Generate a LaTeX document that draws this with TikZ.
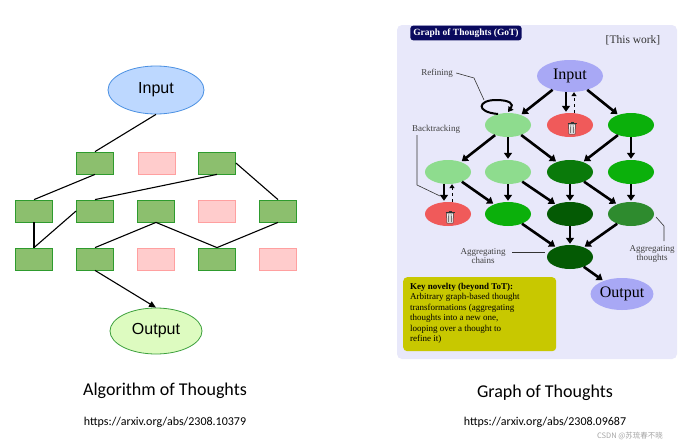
\documentclass[tikz,border=0pt]{standalone}
\usepackage{fontspec}
\setmainfont{Liberation Serif}
\newfontfamily\calib{Carlito}
\newfontfamily\arialf{Liberation Sans}
\newfontfamily\cjk{Noto Sans CJK SC}
\usetikzlibrary{arrows.meta,shapes.geometric,calc}
\definecolor{boxg}{HTML}{8CBF6E}\definecolor{boxgd}{HTML}{2E9B2E}
\definecolor{boxp}{HTML}{FFCCCC}\definecolor{boxpd}{HTML}{FFA0A0}
\definecolor{panel}{HTML}{E8E8FA}\definecolor{navy}{HTML}{0A0A5E}
\definecolor{purp}{HTML}{A8A8F5}\definecolor{lg}{HTML}{8EDC8E}
\definecolor{g1}{HTML}{0BB00B}\definecolor{g2}{HTML}{0A7A0A}
\definecolor{g3}{HTML}{045A04}\definecolor{g4}{HTML}{2E8B2E}
\definecolor{rd}{HTML}{F05A5A}\definecolor{key}{HTML}{C8C800}
\definecolor{inb}{HTML}{BDD8FF}\definecolor{inbd}{HTML}{4A90E2}
\definecolor{outg}{HTML}{DDFBC0}\definecolor{outgd}{HTML}{3CA03C}
\begin{document}
\begin{tikzpicture}[x=1pt,y=-1pt,
 gb/.style={draw=boxgd,fill=boxg,minimum width=37pt,minimum height=22pt,inner sep=0pt,line width=0.8pt},
 pb/.style={draw=boxpd,fill=boxp,minimum width=37pt,minimum height=22pt,inner sep=0pt,line width=0.8pt},
 ln/.style={line width=1.1pt},
 th/.style={ellipse,minimum width=46pt,minimum height=24pt,inner sep=0pt},
 ar/.style={line width=2.6pt,-{Triangle[length=6pt,width=8pt]},shorten >=1pt},
 da/.style={line width=1pt,dashed,-{Triangle[length=4pt,width=5pt]}},
 lab/.style={font=\fontsize{9}{9}\selectfont,text=black!75,align=center},
 lead/.style={line width=0.6pt,black!80}]
\useasboundingbox (0,0) rectangle (694,447);
\fill[white] (0,0) rectangle (694,447);
% ---------- left
\node[ellipse,draw=inbd,fill=inb,minimum width=96pt,minimum height=48pt,line width=0.8pt,font=\arialf\fontsize{16}{16}\selectfont] (in) at (156,90) {Input};
\node[gb] (a1) at (95,163) {};\node[pb] (a2) at (157,163) {};\node[gb] (a3) at (217,163) {};
\node[gb] (b1) at (34,211) {};\node[gb] (b2) at (95,211) {};\node[gb] (b3) at (156,211) {};\node[pb] (b4) at (217,211) {};\node[gb] (b5) at (278,211) {};
\node[gb] (c1) at (34,259) {};\node[gb] (c2) at (95,259) {};\node[pb] (c3) at (156,259) {};\node[gb] (c4) at (217,259) {};\node[pb] (c5) at (278,259) {};
\node[ellipse,draw=outgd,fill=outg,minimum width=92pt,minimum height=46pt,line width=0.8pt,font=\arialf\fontsize{16}{16}\selectfont] (out) at (156,331) {Output};
\draw[ln] (in.south) -- (a1.north);
\draw[ln] (a1.south) -- (b1.north);
\draw[ln] (a3.south) -- (b2.north);
\draw[ln] (a3.east) -- (b5.north);
\draw[ln] (b1.south) -- (c1.north);
\draw[ln] (c1.north) -- (b2.west);
\draw[ln] (b3.south) -- (c2.north);
\draw[ln] (b3.south) -- (c4.north);
\draw[ln] (b5.south) -- (c4.north);
\draw[ln,-{Triangle[length=7pt,width=6pt]}] (c2.south) -- (out.north);
\node[font=\calib\fontsize{18}{18}\selectfont] (t1) at (165,391) {Algorithm of Thoughts};
\node[font=\calib\fontsize{12}{12}\selectfont] (u1) at (165,422) {https://arxiv.org/abs/2308.10379};
% ---------- right
\fill[panel,rounded corners=5pt] (397,25) rectangle (677,359);
\node[fill=navy,text=white,rounded corners=3pt,font=\bfseries\fontsize{9.5}{9.5}\selectfont,inner sep=3pt] (ttl) at (466,33) {Graph of Thoughts (GoT)};
\node[font=\fontsize{11.5}{11.5}\selectfont,text=black!80] (tw) at (633,40) {[This work]};
\node[th,fill=purp,minimum width=66pt,minimum height=32pt,font=\fontsize{16}{16}\selectfont] (gi) at (570,76) {Input};
\node[th,fill=lg] (r11) at (508,125) {};
\node[th,fill=rd] (r12) at (570,125) {};
\node[th,fill=g1] (r13) at (631,125) {};
\node[th,fill=lg] (r21) at (448,172) {};
\node[th,fill=lg] (r22) at (508,172) {};
\node[th,fill=g2] (r23) at (570,172) {};
\node[th,fill=g1] (r24) at (631,172) {};
\node[th,fill=rd] (r31) at (448,214) {};
\node[th,fill=g1] (r32) at (508,214) {};
\node[th,fill=g3] (r33) at (570,214) {};
\node[th,fill=g4] (r34) at (631,214) {};
\node[th,fill=g3] (ag) at (570,257) {};
\node[th,fill=purp,minimum width=60pt,minimum height=32pt,font=\fontsize{16}{16}\selectfont] (go) at (622,294) {Output};
% trash cans
\foreach \n in {r12,r31}{
 \begin{scope}[shift={($(\n.center)+(2,3)$)}]
 \draw[black!80,line width=0.5pt,fill=white!90!gray] (-3.5,-4) -- (-3,6) -- (3,6) -- (3.5,-4) -- cycle;
 \draw[black!80,line width=0.6pt] (-4.5,-4.5) -- (4.5,-4.5) (-1.5,-5.5) -- (1.5,-5.5);
 \draw[black!80,line width=0.4pt] (-1.5,-3) -- (-1.3,5) (0,-3) -- (0,5) (1.5,-3) -- (1.3,5);
 \end{scope}}
\draw[ar] (gi) -- (r11);
\draw[ar] ([xshift=-4pt]gi.south) -- ([xshift=-4pt]r12.north);
\draw[da] ([xshift=4pt]r12.north) -- ([xshift=4pt]gi.south);
\draw[ar] (gi) -- (r13);
\draw[ar] (r11) -- (r21);
\draw[ar] (r11) -- (r22);
\draw[ar] (r11) -- (r23);
\draw[ar] (r13) -- (r23);
\draw[ar] (r13) -- (r24);
\draw[ar] ([xshift=-4pt]r21.south) -- ([xshift=-4pt]r31.north);
\draw[da] ([xshift=4pt]r31.north) -- ([xshift=4pt]r21.south);
\draw[ar] (r21) -- (r32);
\draw[ar] (r22) -- (r32);
\draw[ar] (r22) -- (r33);
\draw[ar] (r23) -- (r33);
\draw[ar] (r23) -- (r34);
\draw[ar] (r24) -- (r34);
\draw[ar] (r32) -- (ag);
\draw[ar] (r33) -- (ag);
\draw[ar] (r34) -- (ag);
\draw[ar] (ag) -- (go);
% refining loop
\draw[line width=2pt,-{Triangle[length=5pt,width=6pt]}] (498,114) .. controls (475,112) and (478,100) .. (496,100) .. controls (510,100) and (514,104) .. (508,112);
\node[lab] (lref) at (437,73) {Refining};
\draw[lead] (lref.east) -- (474,78) -- (484,100);
\node[lab] (lbt) at (436,129) {Backtracking};
\draw[lead] (417,135) -- (417,185) -- (440,196);
\node[lab] (lac) at (483,256) {Aggregating\\chains};
\draw[lead] (512,252) -- (545,252);
\node[lab] (lat) at (652,254) {Aggregating\\thoughts};
\draw[lead] (656,217) -- (664,226) -- (664,241);
\node[fill=key,rounded corners=4pt,minimum width=153pt,minimum height=74pt,anchor=north west,inner sep=0pt] (kb) at (403,277) {};
\node[anchor=north west,align=left,font=\fontsize{9}{10.5}\selectfont,inner sep=0pt] (kt) at (410,283) {\textbf{Key novelty (beyond ToT):}\\Arbitrary graph-based thought\\transformations (aggregating\\thoughts into a new one,\\looping over a thought to\\refine it)};
\node[font=\calib\fontsize{18}{18}\selectfont] (t2) at (545,393) {Graph of Thoughts};
\node[font=\calib\fontsize{12}{12}\selectfont] (u2) at (545,422) {https://arxiv.org/abs/2308.09687};
\node[font=\cjk\fontsize{7.5}{7.5}\selectfont,text=black!35] (wm) at (630,436) {CSDN @苏琉春不晓};
\end{tikzpicture}
\end{document}
